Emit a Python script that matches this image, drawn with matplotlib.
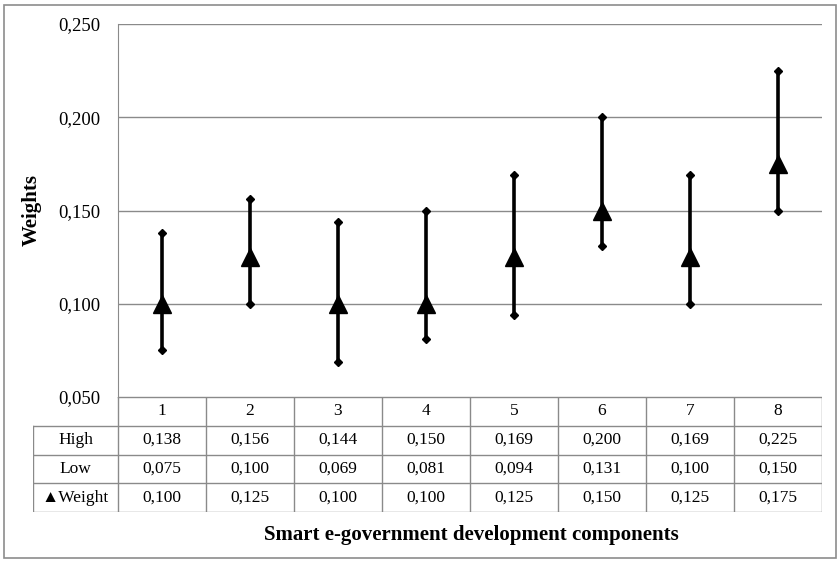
import matplotlib.pyplot as plt
from matplotlib.patches import Rectangle

components = ['1', '2', '3', '4', '5', '6', '7', '8']
high = [0.138, 0.156, 0.144, 0.150, 0.169, 0.200, 0.169, 0.225]
low = [0.075, 0.100, 0.069, 0.081, 0.094, 0.131, 0.100, 0.150]
weight = [0.100, 0.125, 0.100, 0.100, 0.125, 0.150, 0.125, 0.175]
yticks = [0.050, 0.100, 0.150, 0.200, 0.250]

plt.rcParams['font.family'] = ['Liberation Serif', 'DejaVu Serif']

W, H = 840, 563
fig = plt.figure(figsize=(W / 100, H / 100), dpi=100, facecolor='white')

def px(x0, y0, x1, y1):
    # pixel box (top-left origin) -> figure fraction rect
    return [x0 / W, 1 - y1 / H, (x1 - x0) / W, (y1 - y0) / H]

# outer frame
fig.patches.append(Rectangle((4 / W, 5 / H), 832 / W, 553 / H, transform=fig.transFigure,
                             fill=False, edgecolor='#8c8c8c', lw=1.2))

grid_c = '#8a8a8a'
ax = fig.add_axes(px(118, 24, 822, 397))
x = list(range(len(components)))
ax.set_xlim(-0.5, len(components) - 0.5)
ax.set_ylim(0.05, 0.25)
ax.set_yticks(yticks)
ax.set_yticklabels([f'{v:.3f}'.replace('.', ',') for v in yticks], fontsize=13.5)
ax.set_xticks([])
ax.tick_params(axis='y', length=0, pad=13)
for s in ['top', 'right', 'bottom']:
    ax.spines[s].set_visible(False)
ax.spines['left'].set_color(grid_c)
ax.yaxis.grid(True, color=grid_c, lw=1)
ax.set_axisbelow(True)
ax.set_ylabel('Weights', fontsize=15, fontweight='bold')
ax.yaxis.set_label_coords(-0.108, 0.5)

for i in x:
    ax.plot([i, i], [low[i], high[i]], color='black', lw=2.6, zorder=3)
ax.plot(x, high, 'D', color='black', ms=4, zorder=4)
ax.plot(x, low, 'D', color='black', ms=4, zorder=4)
ax.plot(x, weight, '^', color='black', ms=13, zorder=5)

# data table below the plot
tab = fig.add_axes(px(33, 397, 822, 512))
lab_w = 85 / 88.0
tab.set_xlim(-0.5 - lab_w, len(components) - 0.5)
tab.set_ylim(4, 0)
tab.axis('off')
n = len(components)
fs = 12.5
# horizontal lines
tab.plot([-0.5, n - 0.5], [0, 0], color=grid_c, lw=1)
for r in [1, 2, 3, 4]:
    tab.plot([-0.5 - lab_w, n - 0.5], [r, r], color=grid_c, lw=1)
# vertical lines
for c in range(n + 1):
    tab.plot([c - 0.5, c - 0.5], [0, 4], color=grid_c, lw=1)
tab.plot([-0.5 - lab_w, -0.5 - lab_w], [1, 4], color=grid_c, lw=1)

rows = [('High', high), ('Low', low), ('\u25b2Weight', weight)]
for c, name in enumerate(components):
    tab.text(c, 0.5, name, ha='center', va='center', fontsize=fs)
for r, (name, vals) in enumerate(rows, start=1):
    tab.text(-0.5 - lab_w / 2, r + 0.5, name, ha='center', va='center', fontsize=fs)
    for c, v in enumerate(vals):
        tab.text(c, r + 0.5, f'{v:.3f}'.replace('.', ','), ha='center', va='center', fontsize=fs)

fig.text(471 / W, 1 - 535 / H, 'Smart e-government development components',
         ha='center', va='center', fontsize=15, fontweight='bold')

fig.savefig('out.png', dpi=100, facecolor='white')
